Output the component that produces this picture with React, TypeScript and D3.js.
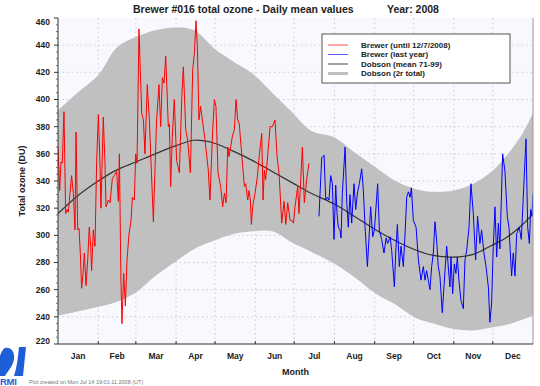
import React from "react";
import * as d3 from "d3";

// Brewer #016, 2008 daily means (day of year, DU)
const redDays = [0, 1.3, 2.3, 3.3, 4.6, 5.9, 6.9, 8, 9.2, 10.5, 11.8, 13.1, 13.9, 15.2, 16.2, 17.2, 18.2, 19.3, 20.3, 21.6, 22.9, 24.1, 25.2, 25.9, 27.2, 28.5, 29.8, 31.1, 32.4, 33.1, 34.9, 36.2, 37, 38.8, 40.1, 41.9, 43.4, 45.2, 46.5, 47.3, 48.5, 49.3, 50.6, 51.9, 53.2, 54.7, 56.3, 57.3, 58.8, 59.9, 60.9, 62.4, 64.5, 65.8, 67, 68.8, 70.4, 71.7, 73.5, 74.7, 76, 77.8, 79.1, 80.4, 81.7, 83, 85, 85.8, 86.8, 88.1, 89.6, 91.4, 93.5, 95.5, 96.6, 98.4, 99.9, 102, 103.8, 105.1, 106.3, 107.4, 108.6, 109.9, 111.2, 113.3, 115.8, 117.1, 119.2, 120.5, 121.7, 123.3, 125.3, 126.9, 128.2, 129.5, 130.8, 131.8, 134.4, 135.9, 137.2, 138.5, 139.7, 141.5, 143.6, 144.6, 146.2, 147.2, 148.2, 149, 150, 151.8, 153.6, 155.2, 157, 158, 159, 160, 162.1, 163.4, 165.2, 167.2, 168.8, 170.3, 172.4, 174.2, 175.5, 177, 178.8, 180.1, 181.4, 182.6, 184.7, 185.7, 188.3, 189.8, 191.6, 193.4];
const redOzone = [365, 333, 354, 353, 391, 316, 319, 317, 331, 344, 331, 304, 376, 304, 305, 287, 261, 272, 287, 263, 282, 306, 292, 274, 304, 292, 355, 389, 351, 320, 387, 353, 321, 326, 324, 342, 344, 347, 325, 360, 267, 235, 272, 248, 282, 301, 311, 328, 326, 360, 353, 452, 390, 385, 360, 411, 385, 353, 310, 348, 385, 411, 380, 416, 412, 432, 380, 382, 336, 373, 400, 355, 346, 405, 424, 378, 370, 346, 422, 434, 458, 439, 385, 395, 385, 370, 348, 326, 378, 400, 395, 346, 336, 321, 331, 324, 365, 358, 373, 378, 400, 385, 382, 360, 336, 338, 326, 333, 326, 308, 321, 331, 343, 360, 375, 326, 348, 341, 365, 380, 380, 385, 358, 346, 309, 325, 308, 324, 311, 311, 309, 321, 336, 316, 365, 324, 341, 353];

// Brewer, last year (second half)
const blueDays = [201.1, 203.2, 205, 206.3, 207.6, 208.8, 210.1, 211.4, 212.7, 214, 215, 216, 217.3, 218.1, 219.1, 221.2, 222.5, 223.7, 225, 226.3, 228.1, 229.4, 230.7, 232.2, 234, 235.3, 236.6, 238.4, 239.7, 240.9, 242.5, 243.8, 246.3, 247.6, 249.4, 251.2, 252.8, 254, 255.9, 257.1, 259.2, 260.2, 261.5, 263, 264.3, 266.1, 267.4, 268.7, 270, 271.3, 272.3, 273.8, 275.9, 277.7, 279.7, 281.5, 282.8, 284, 285.3, 286.6, 287.9, 289.2, 290.5, 291.7, 293, 294.3, 296.1, 296.9, 298.2, 299.5, 300.7, 302, 302.8, 304.1, 305.4, 306.6, 307.7, 308.9, 310.5, 312.3, 313.6, 314.9, 316.7, 318.2, 320, 321.8, 323.3, 325.1, 326.4, 328.2, 329.8, 331.6, 332.8, 334.1, 335.4, 336.7, 338, 339.3, 340.5, 342.6, 344.4, 346.2, 347.5, 349.5, 350.8, 352.1, 353.4, 355.4, 357, 358.5, 360.6, 361.9, 363.2, 364.2, 365.2, 366];
const blueOzone = [314, 357, 359, 326, 328, 326, 344, 338, 297, 337, 316, 306, 304, 298, 331, 365, 324, 306, 330, 309, 338, 319, 331, 338, 349, 333, 306, 277, 299, 321, 299, 304, 338, 304, 297, 287, 298, 294, 299, 289, 262, 287, 308, 277, 292, 277, 301, 328, 332, 328, 335, 311, 306, 282, 267, 277, 267, 274, 267, 260, 277, 287, 310, 297, 277, 270, 243, 255, 274, 292, 277, 262, 284, 257, 279, 272, 284, 267, 252, 246, 282, 289, 306, 338, 316, 282, 314, 294, 304, 287, 277, 262, 236, 250, 292, 321, 284, 309, 290, 360, 347, 314, 306, 270, 287, 270, 301, 306, 297, 328, 371, 306, 294, 319, 314, 331];

// Dobson climatology 71-99
const climDays = [0, 15, 31, 45, 60, 75, 91, 105, 120, 135, 150, 165, 180, 195, 213, 230, 245, 260, 276, 290, 305, 320, 333, 345, 358, 366];
const climMean = [316, 329, 340, 348, 354, 360, 366, 370, 368, 362, 355, 347, 339, 331, 323, 313, 304, 296, 289, 285, 284, 286, 292, 298, 308, 316];
const climUpper = [392, 405, 418, 438, 446, 451, 453, 451, 438, 428, 419, 405, 391, 377, 372, 360, 350, 340, 334, 332, 333, 338, 346, 358, 375, 390];
const climLower = [241, 244, 247.5, 251, 258, 270, 281, 290, 296, 301, 303, 303, 295, 288, 279, 268, 257, 249, 239, 235, 231, 230, 232, 234, 238, 241];

const monthNames = ["Jan", "Feb", "Mar", "Apr", "May", "Jun", "Jul", "Aug", "Sep", "Oct", "Nov", "Dec"];
const monthStarts = [0, 31, 60, 91, 121, 152, 182, 213, 244, 274, 305, 335, 366];
const yTicks = [220, 240, 260, 280, 300, 320, 340, 360, 380, 400, 420, 440, 460];

const legendItems = [
  { label: "Brewer (until 12/7/2008)", color: "#ff4a4a", w: 1 },
  { label: "Brewer (last year)", color: "#5a5aff", w: 1 },
  { label: "Dobson (mean 71-99)", color: "#444444", w: 1 },
  { label: "Dobson (2r total)", color: "#c0c0c0", w: 3 },
];

const FONT = "'Liberation Sans', Arial, Helvetica, sans-serif";

export default function App() {
  const left = 58, right = 533, top = 18, bottom = 344;
  const x = d3.scaleLinear().domain([0, 366]).range([left, right]);
  const y = d3.scaleLinear().domain([220, 460]).range([bottom, top]);

  const clim = climDays.map((d, i) => ({ d, m: climMean[i], hi: climUpper[i], lo: climLower[i] }));
  const band = d3.area<any>().x(p => x(p.d)).y0(p => y(p.lo)).y1(p => y(p.hi)).curve(d3.curveCatmullRom)(clim);
  const meanLine = d3.line<any>().x(p => x(p.d)).y(p => y(p.m)).curve(d3.curveCatmullRom)(clim);
  const line = d3.line<number[]>().x(p => x(p[0])).y(p => y(p[1]));
  const red = line(redDays.map((d, i) => [d, redOzone[i]]));
  const blue = line(blueDays.map((d, i) => [d, blueOzone[i]]));

  const minor = d3.range(220, 461, 5).filter(v => v % 20 !== 0);

  return (
    <svg width={540} height={386} style={{ position: "fixed", left: 0, top: 0, background: "#fff" }} fontFamily={FONT}>
      <rect x={left} y={top} width={right - left} height={bottom - top} fill="#f8f8ff" />
      <clipPath id="plot"><rect x={left} y={top} width={right - left} height={bottom - top} /></clipPath>
      <g clipPath="url(#plot)">
        <path d={band || ""} fill="#c0c0c0" />
        {yTicks.slice(1, -1).map(v => (
          <line key={"h" + v} x1={left} x2={right} y1={y(v)} y2={y(v)} stroke="#c0c0c8" strokeWidth={0.8} strokeDasharray="1.5 3" />
        ))}
        {monthStarts.slice(1, -1).map(d => (
          <line key={"v" + d} x1={x(d)} x2={x(d)} y1={top} y2={bottom} stroke="#c0c0c8" strokeWidth={0.8} strokeDasharray="1.5 3" />
        ))}
        <path d={meanLine || ""} fill="none" stroke="#333" strokeWidth={1.2} />
        <path d={red || ""} fill="none" stroke="#ff0000" strokeWidth={1} strokeLinejoin="round" />
        <path d={blue || ""} fill="none" stroke="#0000ff" strokeWidth={1} strokeLinejoin="round" />
      </g>

      {/* spines */}
      <line x1={right} x2={right} y1={top} y2={bottom} stroke="#999" strokeWidth={1} />
      <line x1={left} x2={left} y1={top} y2={bottom} stroke="#333" strokeWidth={1} />
      <line x1={left} x2={right} y1={bottom} y2={bottom} stroke="#333" strokeWidth={1} />

      {/* y ticks */}
      {yTicks.map(v => (
        <g key={"yt" + v}>
          <line x1={left - 4} x2={left} y1={y(v)} y2={y(v)} stroke="#333" />
          <text x={50} y={Math.min(Math.max(y(v), 22.5), 341.5)} dy="0.35em" textAnchor="end" fontSize={8.5} fontWeight="bold" fill="#222">{v}</text>
        </g>
      ))}
      {minor.map(v => (
        <line key={"ym" + v} x1={left - 2} x2={left} y1={y(v)} y2={y(v)} stroke="#555" strokeWidth={0.8} />
      ))}

      {/* x ticks and month labels */}
      {monthStarts.slice(1, -1).map(d => (
        <line key={"xt" + d} x1={x(d)} x2={x(d)} y1={bottom} y2={bottom - 3} stroke="#333" />
      ))}
      {monthNames.map((m, i) => (
        <text key={m} x={x((monthStarts[i] + monthStarts[i + 1]) / 2)} y={359} textAnchor="middle" fontSize={8.5} fontWeight="bold" fill="#222">{m}</text>
      ))}
      <text x={(left + right) / 2} y={375} textAnchor="middle" fontSize={9} fontWeight="bold" fill="#222">Month</text>
      <text transform={`translate(25,${(top + bottom) / 2}) rotate(-90)`} textAnchor="middle" fontSize={9} fontWeight="bold" fill="#222">Total ozone (DU)</text>

      {/* title */}
      <text x={133} y={13} fontSize={10.5} fontWeight="bold" fill="#222">Brewer #016 total ozone - Daily mean values</text>
      <text x={387} y={13} fontSize={10.5} fontWeight="bold" fill="#222">Year: 2008</text>

      {/* legend */}
      <rect x={322} y={34} width={188} height={49} fill="#fff" stroke="#555" strokeWidth={1} />
      {legendItems.map((it, i) => (
        <g key={it.label}>
          <line x1={328} x2={348} y1={45 + i * 9.5} y2={45 + i * 9.5} stroke={it.color} strokeWidth={it.w} />
          <text x={361} y={45 + i * 9.5} dy="0.35em" fontSize={8} fontWeight="bold" fill="#222">{it.label}</text>
        </g>
      ))}

      {/* RMI logo */}
      <path d="M5,348 C11,347 15,352 14,359 C13,366 8,371 5,376 L0,376 L0,356 C1,352 3,349 5,348 Z" fill="#1f5fd6" />
      <path d="M19,347 L26,347 L23,376 L14,376 C17,367 18,357 19,347 Z" fill="#1f5fd6" />
      <text x={0} y={385} fontSize={9.5} fontWeight="bold" fill="#1f5fd6" letterSpacing={-0.3}>RMI</text>
      <text x={29} y={384} fontSize={5.5} fill="#777">Plot created on Mon Jul 14 19:01:11 2008 (UT)</text>
    </svg>
  );
}
